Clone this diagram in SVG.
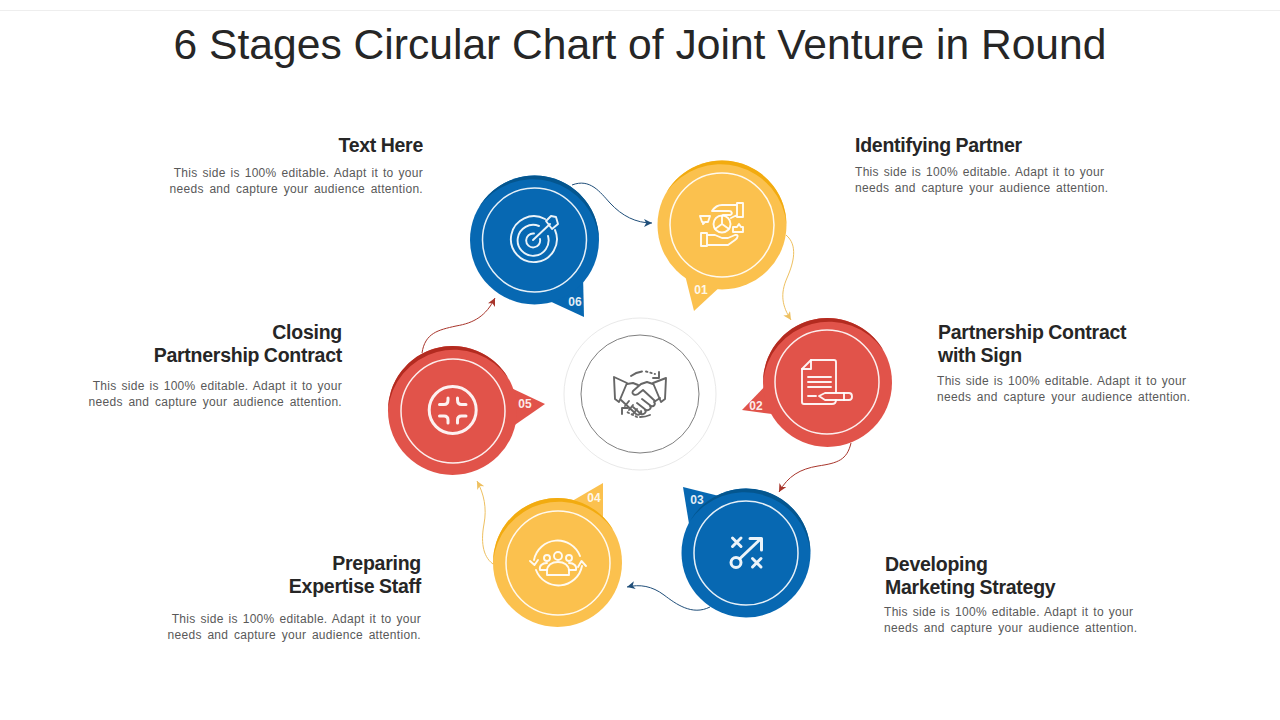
<svg xmlns="http://www.w3.org/2000/svg" width="1280" height="720" viewBox="0 0 1280 720">
<defs>
<style>
text{font-family:"Liberation Sans",Arial,sans-serif}
.title{font-size:42.6px;fill:#262626;text-anchor:middle}
.h{font-size:19.5px;font-weight:700;fill:#262626;letter-spacing:-.25px;word-spacing:-.6px}
.b{font-size:12px;fill:#595959;letter-spacing:.3px;word-spacing:1.25px}
.b2{word-spacing:2px}
.e{text-anchor:end}
.n{font-size:12px;font-weight:700;fill:#fff;text-anchor:middle;fill-opacity:.9}
.ring{fill:none;stroke:#fff;stroke-width:1.5;stroke-opacity:.9}
.ic{fill:none;stroke:#fff;stroke-width:1.9;stroke-linejoin:round;stroke-linecap:round;stroke-opacity:.92}
.hs{fill:none;stroke:#666;stroke-width:1.9;stroke-linejoin:round;stroke-linecap:round}
.y{fill:#fbc14e}.yd{fill:#f2ab0f}
.r{fill:#e1534a}.rd{fill:#b32b20}
.u{fill:#0768b2}.ud{fill:#04568f}
.c{fill:none;stroke-width:1}
</style>
<path id="crR" d="M-55.86 -32.25A64.5 64.5 0 0 1 64.5 0A66.2 66.2 0 0 0 -55.86 -32.25Z"/>
<path id="crL" d="M-64.5 0A64.5 64.5 0 0 1 55.86 -32.25A66.2 66.2 0 0 0 -64.5 0Z"/>
<marker id="ab" markerWidth="10" markerHeight="10" refX="8" refY="4" orient="auto" markerUnits="userSpaceOnUse"><path d="M0 0L8 4L0 8L2.2 4Z" fill="#1f4e79"/></marker>
<marker id="ay" markerWidth="10" markerHeight="10" refX="8" refY="4" orient="auto" markerUnits="userSpaceOnUse"><path d="M0 0L8 4L0 8L2.2 4Z" fill="#eec060"/></marker>
<marker id="ar" markerWidth="10" markerHeight="10" refX="8" refY="4" orient="auto" markerUnits="userSpaceOnUse"><path d="M0 0L8 4L0 8L2.2 4Z" fill="#a8352b"/></marker>
</defs>
<rect width="1280" height="720" fill="#fff"/>
<line x1="0" y1="10.5" x2="1280" y2="10.5" stroke="#eeeeee"/>
<text class="title" x="640" y="58.5">6 Stages Circular Chart of Joint Venture in Round</text>

<g id="connectors">
<path class="c" stroke="#1f4e79" marker-end="url(#ab)" d="M572 185C590 178 600 192 610 203C622 216 636 223 652 223"/>
<path class="c" stroke="#eec060" marker-end="url(#ay)" d="M786 235C798 245 794 262 787 278C780 294 782 306 791 320"/>
<path class="c" stroke="#a8352b" marker-end="url(#ar)" d="M851 443C847 460 838 463 818 466C800 469 788 476 779 492"/>
<path class="c" stroke="#1f4e79" marker-end="url(#ab)" d="M710 607C692 616 676 604 664 595C652 586 640 584 627 587"/>
<path class="c" stroke="#eec060" marker-end="url(#ay)" d="M493 564C482 556 481 540 484 524C487 508 484 494 477 481"/>
<path class="c" stroke="#a8352b" marker-end="url(#ar)" d="M422 353C425 333 438 330 456 326C474 323 486 316 495 298"/>
</g>

<g id="center">
<circle cx="640" cy="394" r="76" fill="#fff" stroke="#e9e9e9"/>
<circle cx="640" cy="394" r="59" fill="#fff" stroke="#7f7f7f"/>
<g class="hs">
<path d="M614 377L627 383L619 402L615 399Z"/>
<path d="M666 378L653 383L661 402L665 399Z"/>
<path d="M627 384L633 383L638 385M653 384L647 382L641 384L633 391C631 394 635 396 638 394L643 390L655 401"/>
<path d="M621 400L636 414C639 416 642 413 641 411M633 407L641 414C644 415 647 412 645 410M637 403L646 410C649 411 652 408 650 406M642 399L651 406C654 407 656 404 654 402L660 398"/>
<path d="M625 406L629 401M629 410L633 405M633 414L637 409"/>
<path d="M631 376A24 24 0 0 1 642 371.500"/>
<path d="M646 371.500L655 374" stroke-dasharray="1.500 3"/>
<path d="M659 372L659 378L653 378"/>
<path d="M650 415A24 24 0 0 1 640 417"/>
<path d="M637 417L627 412" stroke-dasharray="1.500 3"/>
<path d="M622 414L622 408L628 408"/>
</g>
</g>

<g id="node-01">
<path class="y" d="M685 275L694 311L722 285Z"/>
<circle class="y" cx="722" cy="225" r="64.500"/>
<use class="yd" href="#crR" x="722" y="225"/>
<circle class="ring" cx="722" cy="225" r="52"/>
<g class="ic">
<path d="M737 203H743V217H737ZM737 205H722C717 205 714 208 712 211L729 211C732 211 733 214 730 215L723 215M737 215L731 218"/>
<path d="M701 233H707V246H701ZM707 235H715L722 238H728L735 235C739 234 738 238 735 240L728 245H707"/>
<circle cx="722" cy="224" r="8.500"/>
<path d="M722 216V224L729 229M722 224L715 229"/>
<path d="M700 216H710L708 222H705L703 224V222H702Z"/>
<path d="M733 232V227H737L739 224L741 227H743V232Z"/>
</g>
<text class="n" x="701" y="294">01</text>
</g>

<g id="node-02">
<path class="r" d="M769 382L742 410L780 415Z"/>
<circle class="r" cx="827.500" cy="382.500" r="64.500"/>
<use class="rd" href="#crL" x="827.500" y="382.500"/>
<circle class="ring" cx="827" cy="382" r="52"/>
<g class="ic">
<path d="M836 392V362C836 361 835 360 834 360H811L802 369V402C802 403 803 404 804 404H832C835 404 836 403 836 400"/>
<path d="M811 360V369H802"/>
<path d="M808 377H831M808 382H831M808 387H831"/>
<path d="M808 396H816M819 396L825 393H849C853 393 853 400 849 400H825Z"/>
<path d="M844 393V400"/>
</g>
<text class="n" x="756" y="410">02</text>
</g>

<g id="node-03">
<path class="u" d="M683 487L723 497L690 530Z"/>
<circle class="u" cx="746" cy="553" r="64.500"/>
<use class="ud" href="#crR" x="746" y="553"/>
<circle class="ring" cx="746" cy="553" r="52"/>
<g class="ic" style="stroke-width:3">
<path d="M732.500 538L741 546.500M741 538L732.500 546.500"/>
<path d="M752.500 558.500L761 567M761 558.500L752.500 567"/>
<circle cx="736" cy="562.500" r="5"/>
<path d="M740 558.500L761 538.500M750 538.500H761.500V550"/>
</g>
<text class="n" x="697" y="504">03</text>
</g>

<g id="node-04">
<path class="y" d="M567 504L603 483L603 525Z"/>
<circle class="y" cx="557.500" cy="562.500" r="64.500"/>
<use class="yd" href="#crL" x="557.500" y="562.500"/>
<circle class="ring" cx="558" cy="563" r="52"/>
<g class="ic">
<path d="M534 560A24 24 0 0 1 580 556M582 566A24 24 0 0 1 536 570"/>
<path d="M530 561L534.500 565L538 560M578 567L581.500 561L586 566"/>
<circle cx="558" cy="556" r="4"/>
<circle cx="547" cy="558" r="3"/>
<circle cx="569" cy="558" r="3"/>
<path d="M547 575V571C547 565 552 562 558 562C564 562 569 565 569 571V575Z"/>
<path d="M547 570H540C539 566 542 563 547 563M569 570H576C577 566 574 563 569 563"/>
</g>
<text class="n" x="594" y="502">04</text>
</g>

<g id="node-05">
<path class="r" d="M505 385L545 404L509 429Z"/>
<circle class="r" cx="452.500" cy="410.500" r="64.500"/>
<use class="rd" href="#crL" x="452.500" y="410.500"/>
<circle class="ring" cx="453" cy="411" r="52"/>
<g class="ic" style="stroke-width:3">
<circle cx="452.700" cy="410" r="23.500"/>
<path d="M439.500 404.500H444Q448 404.500 448 400V398M466 404.500H461.500Q457.500 404.500 457.500 400V398M439.500 416H444Q448 416 448 420V423M466 416H461.500Q457.500 416 457.500 420V423"/>
</g>
<text class="n" x="525" y="408">05</text>
</g>

<g id="node-06">
<path class="u" d="M583 275L584 317L545 299Z"/>
<circle class="u" cx="534.500" cy="240" r="64.500"/>
<use class="ud" href="#crR" x="534.500" y="240"/>
<circle class="ring" cx="534.500" cy="240" r="52"/>
<g class="ic">
<path d="M545 219A23 23 0 1 0 555 230M539 226A15.500 15.500 0 1 0 548 236M534 233.500A7 7 0 1 0 540 239"/>
<path d="M533 240L550 224M546 221L551 216L556 217L558 224L552 229Z"/>
</g>
<text class="n" x="575" y="306">06</text>
</g>

<g id="label-01">
<text class="h" x="855" y="152">Identifying Partner</text>
<text class="b" x="855" y="176">This side is 100% editable. Adapt it to your</text>
<text class="b b2" x="855" y="192">needs and capture your audience attention.</text>
</g>
<g id="label-02">
<text class="h" x="938" y="339">Partnership Contract</text>
<text class="h" x="938" y="362">with Sign</text>
<text class="b" x="937" y="385">This side is 100% editable. Adapt it to your</text>
<text class="b b2" x="937" y="401">needs and capture your audience attention.</text>
</g>
<g id="label-03">
<text class="h" x="885" y="571">Developing</text>
<text class="h" x="885" y="594">Marketing Strategy</text>
<text class="b" x="884" y="616">This side is 100% editable. Adapt it to your</text>
<text class="b b2" x="884" y="632">needs and capture your audience attention.</text>
</g>
<g id="label-04">
<text class="h e" x="421" y="570">Preparing</text>
<text class="h e" x="421" y="593">Expertise Staff</text>
<text class="b e" x="421" y="623">This side is 100% editable. Adapt it to your</text>
<text class="b b2 e" x="421" y="639">needs and capture your audience attention.</text>
</g>
<g id="label-05">
<text class="h e" x="342" y="339">Closing</text>
<text class="h e" x="342" y="362">Partnership Contract</text>
<text class="b e" x="342" y="390">This side is 100% editable. Adapt it to your</text>
<text class="b b2 e" x="342" y="406">needs and capture your audience attention.</text>
</g>
<g id="label-06">
<text class="h e" x="423" y="152">Text Here</text>
<text class="b e" x="423" y="177">This side is 100% editable. Adapt it to your</text>
<text class="b b2 e" x="423" y="193">needs and capture your audience attention.</text>
</g>
</svg>
